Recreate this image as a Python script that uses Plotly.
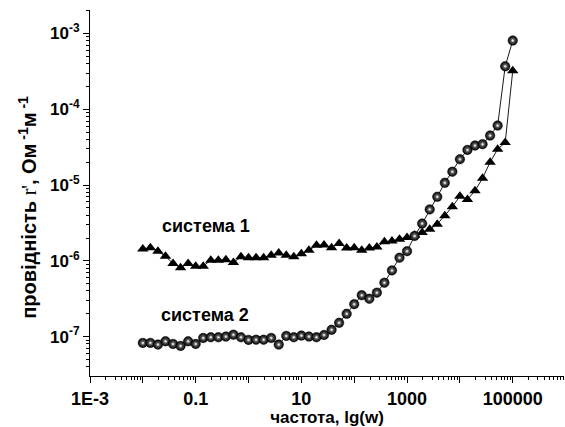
import math
import plotly.graph_objects as go

freq = [0.01, 0.01389, 0.01931, 0.02683, 0.03728, 0.05179, 0.07197,
        0.1, 0.1389, 0.1931, 0.2683, 0.3728, 0.5179, 0.7197,
        1, 1.389, 1.931, 2.683, 3.728, 5.179, 7.197,
        10, 13.89, 19.31, 26.83, 37.28, 51.79, 71.97,
        100, 138.9, 193.1, 268.3, 372.8, 517.9, 719.7,
        1000, 1389, 1931, 2683, 3728, 5179, 7197,
        10000, 13895, 19307, 26827, 37276, 51795, 71969, 100000]

sys1 = [1.43e-6, 1.49e-6, 1.34e-6, 1.15e-6, 9.2e-7, 8.1e-7, 9.2e-7,
        8.45e-7, 8.5e-7, 1.02e-6, 1.02e-6, 1.03e-6, 9.5e-7, 1.13e-6,
        1.1e-6, 1.1e-6, 1.1e-6, 1.18e-6, 1.27e-6, 1.18e-6, 1.13e-6,
        1.24e-6, 1.38e-6, 1.6e-6, 1.62e-6, 1.49e-6, 1.69e-6, 1.48e-6,
        1.49e-6, 1.38e-6, 1.48e-6, 1.52e-6, 1.78e-6, 1.83e-6, 1.93e-6,
        2.03e-6, 2.18e-6, 2.36e-6, 2.61e-6, 3.04e-6, 3.93e-6, 5.17e-6,
        7.1e-6, 6.45e-6, 8.4e-6, 1.23e-5, 2.0e-5, 2.97e-5, 3.63e-5, 3.23e-4]

sys2 = [8.26e-8, 8.26e-8, 7.84e-8, 8.67e-8, 8.0e-8, 7.53e-8, 8.67e-8,
        8.0e-8, 9.6e-8, 9.8e-8, 9.8e-8, 1.0e-7, 1.06e-7, 9.8e-8,
        9.04e-8, 9.1e-8, 9.1e-8, 9.6e-8, 7.84e-8, 1.02e-7, 9.8e-8,
        1.03e-7, 1.0e-7, 9.8e-8, 1.05e-7, 1.23e-7, 1.52e-7, 2.0e-7,
        2.68e-7, 3.52e-7, 3.16e-7, 3.8e-7, 5.14e-7, 7.48e-7, 1.1e-6,
        1.34e-6, 2.13e-6, 3.1e-6, 4.77e-6, 7.0e-6, 1.07e-5, 1.5e-5,
        2.19e-5, 2.91e-5, 3.32e-5, 3.46e-5, 4.5e-5, 6.1e-5, 3.69e-4, 8.07e-4]

x_major = [1e-3, 1e-2, 1e-1, 1, 10, 100, 1e3, 1e4, 1e5]
x_labels = ["1E-3", "", "0.1", "", "10", "", "1000", "", "100000"]
y_major = [1e-7, 1e-6, 1e-5, 1e-4, 1e-3]
y_labels = ["10<sup>-7</sup>", "10<sup>-6</sup>", "10<sup>-5</sup>",
            "10<sup>-4</sup>", "10<sup>-3</sup>"]

labels = ["система 1", "система 2"]
label_pos = [(0.16, 2.86e-6), (0.148, 1.95e-7)]

x_title = "<b>частота, lg(w)</b>"
y_title = ("<b>провідність </b><span style='font-family:Liberation Serif'>r'</span>"
           "<b>, Ом<sup> -1</sup>м<sup> -1</sup></b>")

x_minor = [m * 10 ** e for e in range(-3, 6) for m in range(2, 10)]
y_minor = [m * 10 ** e for e in range(-8, -2) for m in range(2, 10)]

font_family = "Liberation Sans, Arial, sans-serif"

fig = go.Figure()
fig.add_trace(go.Scatter(
    x=freq, y=sys1, mode="lines+markers",
    line=dict(color="black", width=0.9),
    marker=dict(symbol="triangle-up", size=10, color="black"),
    showlegend=False))
fig.add_trace(go.Scatter(
    x=freq, y=sys2, mode="lines+markers",
    line=dict(color="black", width=0.9),
    marker=dict(symbol="circle", size=9.5, color="#000000",
                gradient=dict(type="radial", color="#8a8a8a"),
                line=dict(width=0.5, color="black")),
    showlegend=False))
# highlight on the sphere markers
fig.add_trace(go.Scatter(
    x=freq, y=sys2, mode="markers",
    marker=dict(symbol="circle", size=3, color="#9a9a9a",
                gradient=dict(type="radial", color="#ffffff"),
                line=dict(width=0)),
    hoverinfo="skip", showlegend=False))

for txt, (lx, ly) in zip(labels, label_pos):
    fig.add_annotation(x=math.log10(lx), y=math.log10(ly), xref="x", yref="y",
                       text="<b>" + txt + "</b>", showarrow=False,
                       font=dict(family=font_family, size=18, color="black"))

# y-axis title placed as a rotated annotation
fig.add_annotation(x=-0.131, y=0.462, xref="paper", yref="paper",
                   text=y_title, textangle=-90, showarrow=False,
                   xanchor="center", yanchor="middle",
                   font=dict(family=font_family, size=20, color="black"))

fig.update_xaxes(
    type="log", range=[-3, 5.97],
    tickvals=x_major, ticktext=x_labels,
    ticks="outside", ticklen=6, tickwidth=1, tickcolor="black",
    minor=dict(tickvals=x_minor, ticks="outside", ticklen=3, tickcolor="black", showgrid=False),
    showline=True, linecolor="black", linewidth=1,
    showgrid=False, zeroline=False,
    tickfont=dict(family=font_family, size=18, color="black", weight="bold"),
    title=dict(text=x_title, standoff=1,
               font=dict(family=font_family, size=17, color="black")))
fig.update_yaxes(
    type="log", range=[-7.52, -2.69],
    tickvals=y_major, ticktext=y_labels,
    ticks="outside", ticklen=6, tickwidth=1, tickcolor="black",
    minor=dict(tickvals=y_minor, ticks="outside", ticklen=3, tickcolor="black", showgrid=False),
    showline=True, linecolor="black", linewidth=1,
    showgrid=False, zeroline=False,
    tickfont=dict(family=font_family, size=17, color="black", weight="bold"))

fig.update_layout(
    width=565, height=427,
    margin=dict(l=90, r=1, t=10, b=51),
    paper_bgcolor="white", plot_bgcolor="white")

fig.write_html("out.html")
